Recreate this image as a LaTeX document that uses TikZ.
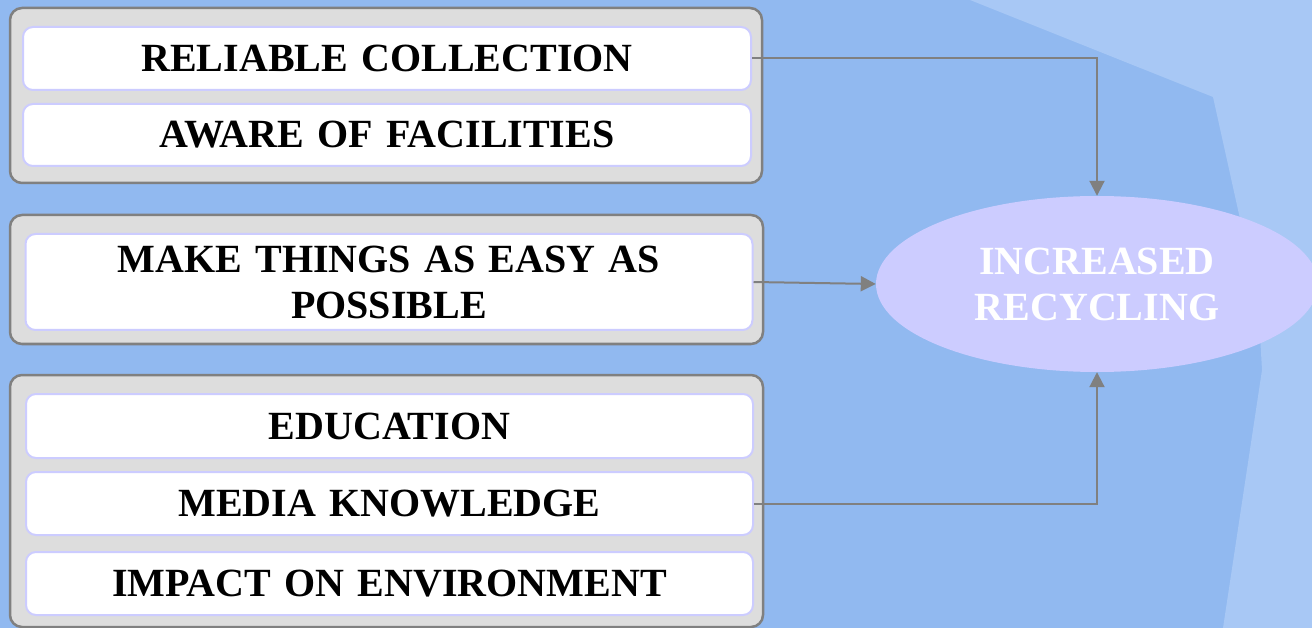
\documentclass[tikz,border=0pt]{standalone}
\usepackage{fontspec}
\setmainfont{Liberation Serif}
\usetikzlibrary{arrows.meta,shapes.geometric}
\definecolor{bgblue}{HTML}{91B9F0}
\definecolor{bglight}{HTML}{A8C8F5}
\definecolor{grpfill}{HTML}{DDDDDD}
\definecolor{grpline}{HTML}{808080}
\definecolor{lav}{HTML}{CCCCFF}
\tikzset{
  grp/.style={draw=grpline, fill=grpfill, line width=2.5pt, rounded corners=12pt},
  item/.style={draw=lav, fill=white, line width=2pt, rounded corners=10pt,
    minimum width=728pt, text width=700pt, align=center, inner sep=0pt,
    font=\fontsize{40}{46}\selectfont\bfseries},
  goal/.style={ellipse, fill=lav, minimum width=442pt, minimum height=176pt,
    align=center, inner sep=0pt, text=white,
    font=\fontsize{40}{46}\selectfont\bfseries},
  link/.style={draw=grpline, line width=2pt, -{Triangle[width=15pt,length=15pt]}}
}
\begin{document}
\begin{tikzpicture}[x=1pt,y=-1pt]
\useasboundingbox (0,0) rectangle (1312,628);
\fill[bgblue] (0,0) rectangle (1312,628);
\fill[bglight] (970,0) -- (1213,97) -- (1258,300) -- (1262,370) -- (1223,628) -- (1312,628) -- (1312,0) -- cycle;
% groups
\draw[grp] (10,8) rectangle (762,183);
\draw[grp] (10,215) rectangle (763,344);
\draw[grp] (10,375) rectangle (763,627);
% items
\node[item, minimum height=63pt] (rc) at (387,58.5) {RELIABLE COLLECTION};
\node[item, minimum height=62pt] (af) at (387,135) {AWARE OF FACILITIES};
\node[item, minimum height=96pt, minimum width=727pt] (mt) at (389,282) {MAKE THINGS AS EASY AS\\POSSIBLE};
\node[item, minimum height=64pt, minimum width=727pt] (ed) at (389.5,426) {EDUCATION};
\node[item, minimum height=63pt, minimum width=727pt] (mk) at (389.5,503.5) {MEDIA KNOWLEDGE};
\node[item, minimum height=63pt, minimum width=727pt] (ie) at (389.5,583.5) {IMPACT ON ENVIRONMENT};
% goal
\node[goal] (ell) at (1097,284) {INCREASED\\RECYCLING};
% links
\draw[link] (rc.east) -| (ell.north);
\draw[link] (mt.east) -- (ell.west);
\draw[link] (mk.east) -| (ell.south);
\end{tikzpicture}
\end{document}
